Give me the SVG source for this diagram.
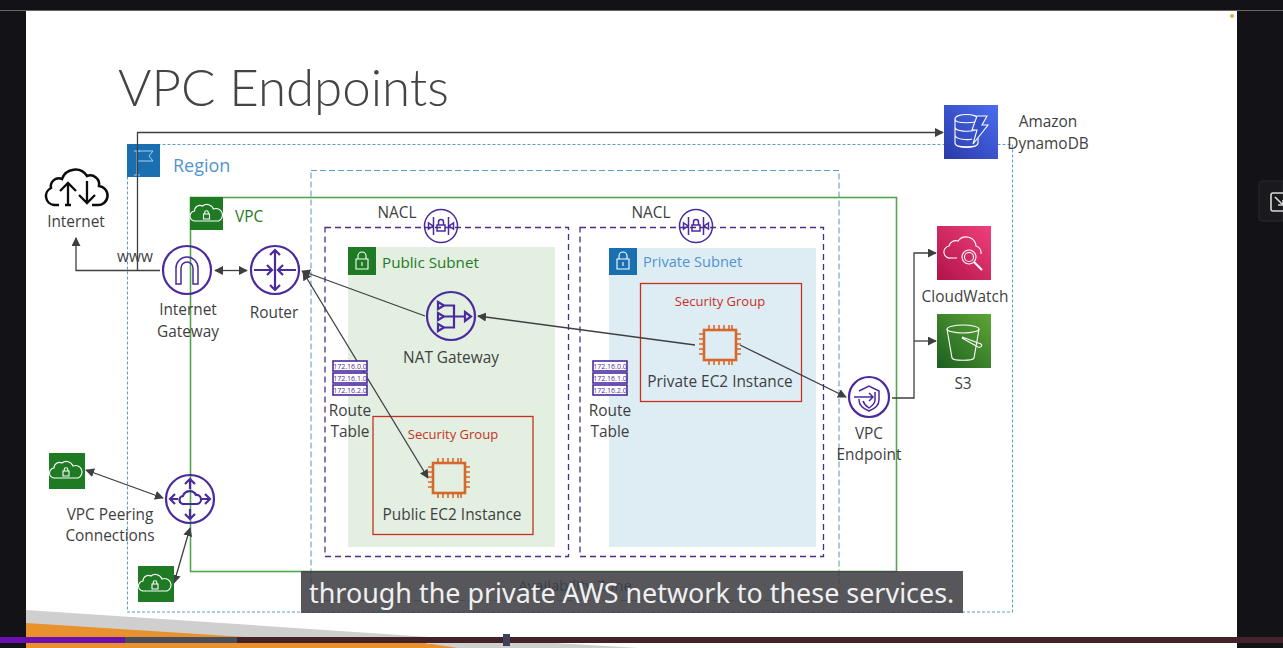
<svg xmlns="http://www.w3.org/2000/svg" width="1283" height="648" viewBox="0 0 1283 648">
<style>
text{font-family:"Open Sans","Noto Sans","Liberation Sans",sans-serif;fill:#3f3f42;font-size:15.400px}
.m{text-anchor:middle}
.pu{fill:none;stroke:#4b2a9e;stroke-width:2.200}
.pt{fill:none;stroke:#4b2a9e;stroke-width:1.500}
.wh{fill:none;stroke:#fff;stroke-width:1.100}
.or{fill:none;stroke:#d5682a;stroke-width:1.600}
.orb{fill:none;stroke:#d5682a;stroke-width:2.600}
.c{fill:none;stroke:#3f3f42;stroke-width:1.300}
.rt{fill:#fff;stroke:#4b2a9e;stroke-width:1.600}
.rtt{font-size:7px;fill:#4b2a9e;text-anchor:middle}
.sg{font-size:13px;fill:#c7301f}
</style>
<defs>
<marker id="a" viewBox="0 0 10 10" refX="9" refY="5" markerWidth="9" markerHeight="9" markerUnits="userSpaceOnUse" orient="auto-start-reverse"><path d="M0 0L10 5L0 10z" fill="#3f3f42"/></marker>
<linearGradient id="gd" x1="0" y1="1" x2="1" y2="0"><stop offset="0" stop-color="#2a3aa8"/><stop offset="1" stop-color="#4a6df0"/></linearGradient>
<linearGradient id="gc" x1="0" y1="1" x2="1" y2="0"><stop offset="0" stop-color="#b0134a"/><stop offset="1" stop-color="#f0407a"/></linearGradient>
<linearGradient id="gs" x1="0" y1="1" x2="1" y2="0"><stop offset="0" stop-color="#1b5e20"/><stop offset="1" stop-color="#5ea636"/></linearGradient>
<g id="vpcicon"><path class="wh" d="M-11 7a5 5 0 0 1 -1-10a5.500 5.500 0 0 1 8-5a7 7 0 0 1 11 3a6 6 0 0 1 5 12z"/><path class="wh" d="M-3 0h6v5h-6zM-1.800 0v-1.500a1.800 1.800 0 0 1 3.600 0v1.500"/></g>
<g id="chip"><rect x="-16" y="-15" width="32" height="30" class="orb"/><path class="or" d="M-11 -20v5M-6 -20v5M-1 -20v5M4 -20v5M9 -20v5M12 -20v5M-11 15v5M-6 15v5M-1 15v5M4 15v5M9 15v5M12 15v5M-21 -11h5M-21 -6h5M-21 -1h5M-21 4h5M-21 9h5M16 -11h5M16 -6h5M16 -1h5M16 4h5M16 9h5"/></g>
<g id="nacl"><circle r="16.500" fill="#fff" class="pt"/><path class="pt" d="M-7.500 -9v18M7.500 -9v18M-12.500 -3v6l4.500-3zM12.500 -3v6l-4.500-3zM-4 -1h8v6h-8zM-2.500 -1v-3a2.500 2.500 0 0 1 5 0v3"/></g>
<g id="rtable"><rect class="rt" x="0" y="0" width="34" height="10"/><text class="rtt" x="17" y="7.500">172.16.0.0</text><rect class="rt" x="0" y="12" width="34" height="10"/><text class="rtt" x="17" y="19.500">172.16.1.0</text><rect class="rt" x="0" y="24" width="34" height="10"/><text class="rtt" x="17" y="31.500">172.16.2.0</text></g>
</defs>

<g id="backdrop">
<rect width="1283" height="648" fill="#131317"/>
<rect x="0" y="10" width="1283" height="1" fill="#6b665e"/>
<rect x="26" y="11" width="1211" height="637" fill="#fff"/>
<circle cx="1232" cy="16" r="2" fill="#f0a848"/>
<path d="M26 610L430 637V648H640L450 637H26z" fill="#cfcfcf"/>
<path d="M26 623L245 637H26zM26 643H425L458 648H26z" fill="#e8912d"/>
<rect x="0" y="637" width="1283" height="6" fill="#44222a"/>
<rect x="0" y="637" width="125" height="6" fill="#6a0fb0"/>
<rect x="125" y="637" width="112" height="6" fill="#4a4d5c"/>
<rect x="503" y="634" width="7" height="12" fill="#3e4159"/>
<path d="M1262 181h21v40h-21a3 3 0 0 1-3-3v-34a3 3 0 0 1 3-3z" fill="#1a1a1e" stroke="#2a2a2e"/>
<rect x="1271" y="193" width="14" height="18" rx="2" fill="none" stroke="#d8d8d8" stroke-width="1.600"/>
<path d="M1275 197l7 7M1283 200v5h-5" fill="none" stroke="#d8d8d8" stroke-width="1.600"/>
</g>

<text id="title" x="118" y="106" style="font-family:Lato,'Open Sans',sans-serif;font-size:51px;font-weight:300;fill:#444">VPC Endpoints</text>

<g id="region">
<rect x="127.500" y="144.500" width="885" height="467.500" fill="none" stroke="#5f9fc4" stroke-width="1.100" stroke-dasharray="3 2"/>
<rect x="127" y="144" width="33" height="33" fill="#1a6fb0"/>
<path d="M137 151v24M134 151h6M134 175h6M137 151h16l-4 5 4 5h-16" fill="none" stroke="#a9d0ea" stroke-width="1"/>
<text x="173" y="172" style="font-size:18px;fill:#5294cf">Region</text>
</g>
<g id="az">
<rect x="311" y="170.500" width="528" height="430" fill="none" stroke="#5f9fc4" stroke-width="1.100" stroke-dasharray="6 3"/>
<text class="m" x="575" y="591" style="fill:#1c3a66;font-size:15px">Availability Zone</text>
</g>
<g id="vpc">
<rect x="190.500" y="197.500" width="706" height="374" fill="none" stroke="#54a64c" stroke-width="1.600"/>
<rect x="190" y="197" width="33" height="33" fill="#1f7a24"/>
<use href="#vpcicon" transform="translate(206.500,214)"/>
<text x="235" y="222" style="font-size:15.400px;font-weight:500;fill:#1f7a24">VPC</text>
</g>
<g id="public-subnet">
<rect x="325" y="227.500" width="243.500" height="329" fill="none" stroke="#4b2e83" stroke-width="1.300" stroke-dasharray="6 4"/>
<rect x="348" y="247" width="207" height="300" fill="#e3efe0"/>
<rect x="348" y="247" width="28" height="28" fill="#1f7a24"/>
<path class="wh" d="M356 259h12v10h-12zM358 259v-3a4 4 0 0 1 8 0v3M362 262v4"/>
<text x="382" y="268" style="font-size:15.200px;font-weight:500;fill:#1f7a24">Public Subnet</text>
<text class="m" x="397" y="218">NACL</text>
</g>
<g id="private-subnet">
<rect x="580" y="227.500" width="243.500" height="329" fill="none" stroke="#4b2e83" stroke-width="1.300" stroke-dasharray="6 4"/>
<rect x="609" y="248" width="207" height="299" fill="#deedf4"/>
<rect x="609" y="248" width="28" height="27" fill="#1a6fb0"/>
<path class="wh" d="M617 259h12v10h-12zM619 259v-3a4 4 0 0 1 8 0v3M623 262v4"/>
<text x="643" y="267" style="font-size:14.600px;fill:#5294cf">Private Subnet</text>
<text class="m" x="651" y="218">NACL</text>
</g>
<g id="sg-private">
<rect x="640.500" y="283.500" width="161" height="118" fill="none" stroke="#c7301f" stroke-width="1.300"/>
<text class="m sg" x="720" y="306">Security Group</text>
</g>
<g id="sg-public">
<rect x="373" y="416.500" width="160" height="118" fill="none" stroke="#c7301f" stroke-width="1.300"/>
<text class="m sg" x="453" y="439">Security Group</text>
</g>

<g id="connectors">
<path class="c" marker-end="url(#a)" d="M160 270.500H76V238"/>
<path class="c" marker-end="url(#a)" d="M137.500 270.500V132.500H943"/>
<path class="c" marker-start="url(#a)" marker-end="url(#a)" d="M215 270.500H247"/>
<path class="c" marker-start="url(#a)" d="M302 271L425 316"/>
<path class="c" marker-start="url(#a)" marker-end="url(#a)" d="M303 272L428 478"/>
<path class="c" marker-start="url(#a)" d="M478 316L695 345"/>
<path class="c" marker-end="url(#a)" d="M740 345L846 397"/>
<path class="c" marker-end="url(#a)" d="M892 398H914V253H936"/>
<path class="c" marker-end="url(#a)" d="M914 341H936"/>
<path class="c" marker-start="url(#a)" marker-end="url(#a)" d="M86 470L163 498"/>
<path class="c" marker-start="url(#a)" marker-end="url(#a)" d="M190 528L174 583"/>
</g>

<g id="internet">
<path d="M59 205h-5a9 9 0 0 1-3-17a8 8 0 0 1 11-9a14 14 0 0 1 25-3a9 9 0 0 1 12 10a9.500 9.500 0 0 1-2 19h-5M65 205h6" fill="none" stroke="#0c0c0c" stroke-width="2.500"/>
<path d="M68 206V183M60 191l8-8 8 8M87 203V181M79 195l8 8 8-8" fill="none" stroke="#0c0c0c" stroke-width="2.300"/>
<text class="m" x="76" y="227">Internet</text>
</g>
<text id="www" class="m" x="135" y="262">www</text>
<g id="igw">
<circle class="pu" cx="187" cy="270" r="24"/>
<path class="pt" d="M176 284V268a11 11 0 0 1 22 0V284H193V268a6 6 0 0 0-12 0V284z"/>
<text class="m" x="188" y="315">Internet</text><text class="m" x="188" y="337">Gateway</text>
</g>
<g id="router">
<circle class="pu" cx="275" cy="270" r="24"/>
<path class="pu" d="M275 250V290M270 255l5-5 5 5M270 285l5 5 5-5M254 270H272M267 265l5 5-5 5M296 270H278M283 265l-5 5 5 5"/>
<text class="m" x="274" y="318">Router</text>
</g>
<g id="nat">
<circle class="pu" cx="451" cy="316" r="24"/>
<path class="pu" d="M438 302l6 3.500-6 3.500zM438 313l6 3.500-6 3.500zM438 324l6 3.500-6 3.500zM444 305.500H454V327.500H444M444 316.500H465M465 312l6 4.500-6 4.500z"/>
<text class="m" x="451" y="363">NAT Gateway</text>
</g>
<use id="nacl-public" href="#nacl" x="441" y="226"/>
<use id="nacl-private" href="#nacl" x="696" y="226"/>
<g id="rt-public"><use href="#rtable" x="333" y="361"/><text class="m" x="350" y="416">Route</text><text class="m" x="350" y="437">Table</text></g>
<g id="rt-private"><use href="#rtable" x="593" y="361"/><text class="m" x="610" y="416">Route</text><text class="m" x="610" y="437">Table</text></g>
<g id="ec2-public"><use href="#chip" x="449" y="478"/><text class="m" x="452" y="520">Public EC2 Instance</text></g>
<g id="ec2-private"><use href="#chip" x="720" y="345"/><text class="m" x="720" y="387">Private EC2 Instance</text></g>
<g id="endpoint">
<circle class="pu" cx="869" cy="397" r="20"/>
<path class="pt" d="M859 391l10-5 10 5v9c0 6-5 9-10 11c-5-2-10-5-10-11v-1M854 397H873M869 393l4 4-4 4M875 392v8c0 4-3 6-6 8c-3-2-5-4-6-7"/>
<text class="m" x="869" y="439">VPC</text><text class="m" x="869" y="460">Endpoint</text>
</g>
<g id="dynamodb">
<rect x="944" y="105" width="54" height="54" fill="url(#gd)"/>
<path class="wh" d="M955 119c0-6 23-6 23 0c0 5-23 5-23 0zM955 119v8c0 5 15 5 20 3M955 127v8c0 5 14 5 17 4M955 135v8c0 6 23 6 23 0v-5M955 143c0 5 23 5 23 0"/>
<path d="M977 116h10l-5 9h6l-15 19 4-14h-5z" fill="#3450c8" stroke="#fff" stroke-width="1.100"/>
</g>
<text id="dynamodb-label" class="m" x="1048" y="127">Amazon</text>
<text id="dynamodb-label2" class="m" x="1048" y="149">DynamoDB</text>
<g id="cloudwatch">
<rect x="937" y="226" width="54" height="54" fill="url(#gc)"/>
<path class="wh" d="M957 258h-6a6 6 0 0 1-2-12a7 7 0 0 1 9-5a10 10 0 0 1 18 5a7 7 0 0 1 5 8"/>
<circle class="wh" cx="969" cy="257" r="7"/><circle class="wh" cx="969" cy="257" r="4.500"/>
<path d="M974 262l8 8" fill="none" stroke="#fff" stroke-width="2"/>
<text class="m" x="965" y="302">CloudWatch</text>
</g>
<g id="s3">
<rect x="937" y="314" width="54" height="54" fill="url(#gs)"/>
<ellipse class="wh" cx="963" cy="329" rx="16" ry="4"/>
<path class="wh" d="M947 329l5 29c1 3 21 3 22 0l5-29M962 337l19 7c2 2-1 4-3 3l-16-9"/>
<text class="m" x="963" y="389">S3</text>
</g>
<g id="peering">
<circle class="pu" cx="190" cy="499" r="24"/>
<path class="pu" d="M190 479v10M185 484l5-5 5 5M190 509v10M185 514l5 5 5-5M170 499h8M175 494l-5 5 5 5M202 499h8M205 494l5 5-5 5M184 504a4 4 0 0 1 -1-8a7 7 0 0 1 13-1a4 4 0 0 1 1 9z"/>
<text class="m" x="110" y="520">VPC Peering</text><text class="m" x="110" y="541">Connections</text>
</g>
<g id="peer-vpc-1"><rect x="49" y="453" width="36" height="36" fill="#1f7a24"/><use href="#vpcicon" transform="translate(66,471)"/></g>
<g id="peer-vpc-2"><rect x="138" y="566" width="36" height="36" fill="#1f7a24"/><use href="#vpcicon" transform="translate(155,584)"/></g>
<g id="caption">
<rect x="301" y="571" width="662" height="42" fill="#3f3f44" fill-opacity=".88"/>
<text x="309" y="603" style="font-size:26.900px;fill:#f0f0f0;font-family:'Noto Sans','Open Sans',sans-serif">through the private AWS network to these services.</text>
</g>
</svg>
